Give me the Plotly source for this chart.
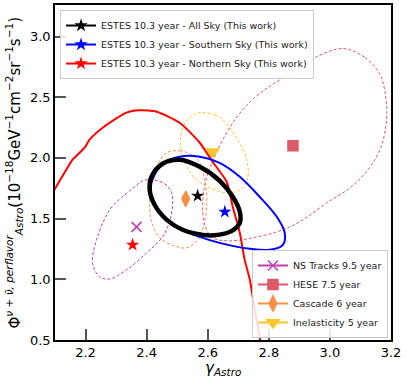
import plotly.graph_objects as go

# best-fit points (gamma, phi)
estes_all = (2.567, 1.688)
estes_south = (2.656, 1.556)
estes_north = (2.354, 1.284)
ns_tracks = (2.367, 1.432)
hese = (2.879, 2.101)
cascade = (2.528, 1.663)
inelasticity = (2.616, 2.050)

# contours
all_g = [2.508, 2.574, 2.639, 2.682, 2.705, 2.705, 2.679, 2.633, 2.584, 2.518, 2.466, 2.426, 2.410, 2.416, 2.452, 2.508]
all_p = [1.985, 1.927, 1.812, 1.680, 1.556, 1.465, 1.399, 1.366, 1.366, 1.408, 1.490, 1.614, 1.738, 1.845, 1.952, 1.985]

south_g = [2.508, 2.574, 2.639, 2.705, 2.770, 2.826, 2.852, 2.846, 2.803, 2.738, 2.639, 2.574, 2.518, 2.459, 2.426, 2.413, 2.426, 2.459, 2.508]
south_p = [2.010, 2.010, 1.960, 1.845, 1.680, 1.515, 1.383, 1.284, 1.243, 1.251, 1.300, 1.350, 1.408, 1.507, 1.614, 1.738, 1.861, 1.960, 2.010]

north_g = [2.098, 2.157, 2.164, 2.197, 2.213, 2.256, 2.334, 2.377, 2.433, 2.508, 2.574, 2.616, 2.662, 2.682, 2.705, 2.721, 2.738, 2.754, 2.770, 2.776]
north_p = [1.738, 1.985, 2.002, 2.084, 2.150, 2.249, 2.373, 2.392, 2.381, 2.290, 2.125, 1.969, 1.804, 1.597, 1.383, 1.160, 0.995, 0.748, 0.525, 0.417]

ns_g = [2.420, 2.459, 2.482, 2.485, 2.475, 2.452, 2.400, 2.334, 2.279, 2.246, 2.223, 2.236, 2.279, 2.321, 2.361, 2.387, 2.420]
ns_p = [1.820, 1.787, 1.713, 1.614, 1.474, 1.350, 1.218, 1.078, 1.003, 1.020, 1.135, 1.325, 1.573, 1.680, 1.762, 1.812, 1.820]

hese_g = [3.043, 3.115, 3.164, 3.184, 3.184, 3.164, 3.125, 3.066, 2.990, 2.911, 2.846, 2.748, 2.672, 2.616, 2.590, 2.584, 2.597, 2.633, 2.689, 2.754, 2.852, 2.951, 3.043]
hese_p = [2.901, 2.827, 2.686, 2.480, 2.274, 2.068, 1.903, 1.754, 1.630, 1.490, 1.408, 1.342, 1.317, 1.342, 1.449, 1.655, 1.845, 2.068, 2.315, 2.497, 2.670, 2.827, 2.901]

casc_g = [2.466, 2.508, 2.548, 2.574, 2.590, 2.597, 2.587, 2.567, 2.531, 2.482, 2.443, 2.416, 2.410, 2.416, 2.436, 2.466]
casc_p = [2.043, 2.059, 2.026, 1.960, 1.820, 1.630, 1.449, 1.325, 1.259, 1.284, 1.342, 1.474, 1.614, 1.779, 1.944, 2.043]

inel_g = [2.574, 2.623, 2.656, 2.698, 2.728, 2.731, 2.715, 2.672, 2.613, 2.557, 2.521, 2.511, 2.528, 2.548, 2.574]
inel_p = [2.373, 2.356, 2.299, 2.150, 1.985, 1.837, 1.754, 1.713, 1.746, 1.837, 1.985, 2.167, 2.299, 2.348, 2.373]

x_ticks = [2.2, 2.4, 2.6, 2.8, 3.0, 3.2]
y_ticks = [0.5, 1.0, 1.5, 2.0, 2.5, 3.0]

c_ns = '#c03fb0'
c_hese = '#dd5a6a'
c_casc = '#f8904a'
c_inel = '#fdc62a'

fig = go.Figure()

# previous results, dashed contours
for g, p, c in [(ns_g, ns_p, c_ns), (hese_g, hese_p, c_hese), (casc_g, casc_p, c_casc), (inel_g, inel_p, c_inel)]:
    fig.add_trace(go.Scatter(x=g, y=p, mode='lines', line=dict(color=c, width=1, dash='3px,2px', shape='spline'),
                             showlegend=False, hoverinfo='skip'))

# this work contours
fig.add_trace(go.Scatter(x=north_g, y=north_p, mode='lines', line=dict(color='red', width=2, shape='spline', smoothing=0.6),
                         showlegend=False))
fig.add_trace(go.Scatter(x=south_g, y=south_p, mode='lines', line=dict(color='blue', width=2, shape='spline'),
                         showlegend=False))
fig.add_trace(go.Scatter(x=all_g, y=all_p, mode='lines', line=dict(color='black', width=4.5, shape='spline'),
                         showlegend=False))

# best fits
sky = [('ESTES 10.3 year - All Sky (This work)', estes_all, 'black'),
       ('ESTES 10.3 year - Southern Sky (This work)', estes_south, 'blue'),
       ('ESTES 10.3 year - Northern Sky (This work)', estes_north, 'red')]
for name, pt, c in sky:
    fig.add_trace(go.Scatter(x=[pt[0]], y=[pt[1]], mode='lines+markers', name=name, legend='legend',
                             line=dict(color=c, width=2), marker=dict(symbol='star', size=10, color=c)))

prev = [('NS Tracks 9.5 year', ns_tracks, c_ns, 'x-thin-open', 10),
        ('HESE 7.5 year', hese, c_hese, 'square', 10),
        ('Cascade 6 year', cascade, c_casc, 'diamond-tall', 11),
        ('Inelasticity 5 year', inelasticity, c_inel, 'triangle-down', 11)]
for name, pt, c, sym, sz in prev:
    fig.add_trace(go.Scatter(x=[pt[0]], y=[pt[1]], mode='lines+markers', name=name, legend='legend2',
                             line=dict(color=c, width=2),
                             marker=dict(symbol=sym, size=sz, color=c, line=dict(color=c, width=1.5))))

axis_common = dict(showline=True, mirror=True, linecolor='black', linewidth=1.5,
                   ticks='inside', ticklen=11, tickwidth=1.5, tickcolor='#555555', automargin=False,
                   showgrid=False, zeroline=False, tickfont=dict(size=13, color='black'))

fig.update_xaxes(range=[2.1, 3.2], tickvals=x_ticks, ticktext=[f'{v:.1f}' for v in x_ticks], **axis_common)
fig.update_yaxes(range=[0.5, 3.26], tickvals=y_ticks, ticktext=[f'{v:.1f}' for v in y_ticks], **axis_common)

# axis titles as annotations for precise placement
fig.add_annotation(text='<i>γ</i><sub><i>Astro</i></sub>', xref='paper', yref='paper',
                   x=0.5, y=-0.05, xanchor='center', yanchor='top', showarrow=False,
                   font=dict(size=15, color='black'))
fig.add_annotation(text='Φ<sup><i>ν + ν̄, perflavor</i></sup><sub><i>Astro</i></sub>'
                        '(10<sup>−18</sup>GeV<sup>−1</sup>cm<sup>−2</sup>sr<sup>−1</sup>s<sup>−1</sup>)',
                   xref='paper', yref='paper', x=-0.122, y=0.5, xanchor='center', yanchor='middle',
                   textangle=-90, showarrow=False, font=dict(size=15, color='black'))

legend_style = dict(bgcolor='rgba(255,255,255,0.85)', bordercolor='#cccccc', borderwidth=1,
                    font=dict(family='DejaVu Sans', size=9.5, color='#222222'), itemwidth=30, tracegroupgap=0)
fig.update_layout(
    width=407, height=380,
    margin=dict(l=55, r=16, t=5, b=40),
    plot_bgcolor='white', paper_bgcolor='white',
    font=dict(family='DejaVu Sans', color='black'),
    legend=dict(x=0.015, y=0.985, xanchor='left', yanchor='top', **legend_style),
    legend2=dict(x=0.991, y=0.006, xanchor='right', yanchor='bottom', **legend_style),
)

fig.write_html('out.html', config={'displayModeBar': False},
               post_script="document.body.style.margin='0';")
